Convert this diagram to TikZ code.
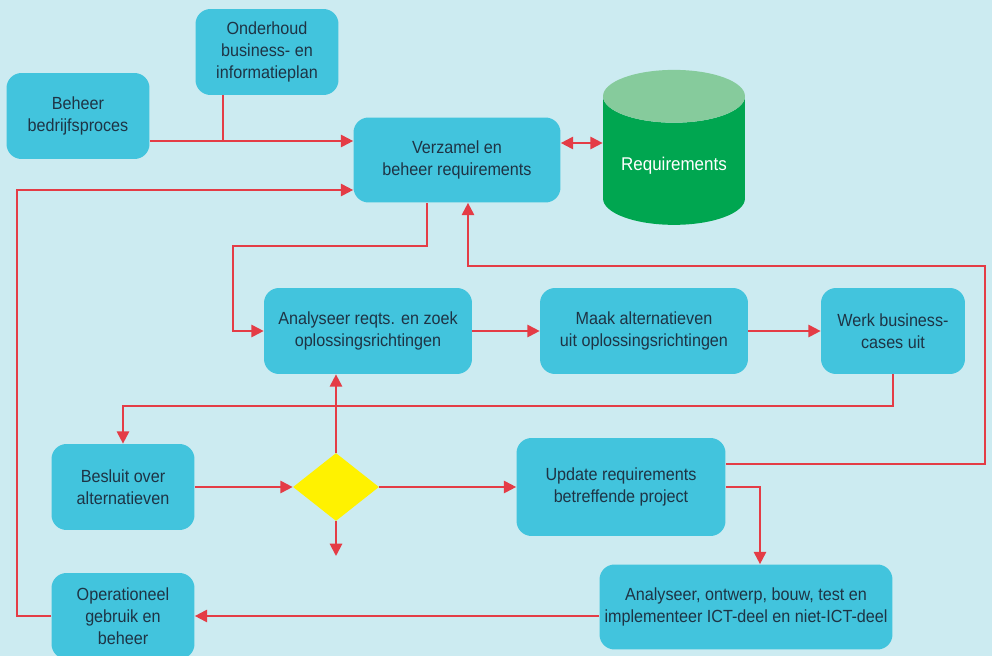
\documentclass[tikz,border=0pt]{standalone}
\usepackage{fontspec}
\setmainfont{Liberation Sans}[FakeStretch=0.92]
\usepackage{tikz}
\usetikzlibrary{arrows.meta,shapes.geometric,positioning,calc}
\definecolor{achtergrond}{HTML}{CCEBF1}
\definecolor{boxblauw}{HTML}{42C4DD}
\definecolor{tekstdonker}{HTML}{1E3445}
\definecolor{lijnrood}{HTML}{E43C46}
\definecolor{dbgroen}{HTML}{00A650}
\definecolor{dbtop}{HTML}{86CB9C}
\definecolor{keuzegeel}{HTML}{FFF200}
\begin{document}
\begin{tikzpicture}[x=0.02cm,y=-0.02cm,
  box/.style={rounded corners=0.3cm, fill=boxblauw, text=tekstdonker, align=center, minimum width=2.86cm, minimum height=1.72cm, inner sep=2pt, font=\fontsize{10}{12.5}\selectfont},
  store/.style={cylinder, shape border rotate=90, aspect=0.45, minimum width=2.84cm, minimum height=3.1cm, cylinder uses custom fill, cylinder body fill=dbgroen, cylinder end fill=dbtop, text=white, font=\fontsize{10.5}{12.5}\selectfont},
  keuze/.style={diamond, fill=keuzegeel, aspect=1.26, minimum width=1.72cm, minimum height=1.36cm, inner sep=0pt},
  lijn/.style={draw=lijnrood, line width=1.1pt},
  link/.style={lijn, -{Triangle[length=7pt,width=7pt]}},
  dlink/.style={lijn, {Triangle[length=7pt,width=7pt]}-{Triangle[length=7pt,width=7pt]}}]
\fill[achtergrond] (0,0) rectangle (992,656);
\useasboundingbox (0,0) rectangle (992,656);
\node[box] (beheer) at (78,116) {Beheer\\bedrijfsproces};
\node[box] (onderhoud) at (267,52) {Onderhoud\\business- en\\informatieplan};
\node[box, minimum width=4.14cm, minimum height=1.7cm] (verzamel) at (457,160) {Verzamel en\\beheer requirements};
\node[store] (reqs) at (674,166) {Requirements};
\node[box, minimum width=4.16cm] (analyse) at (368,331) {Analyseer reqts. en zoek\\oplossingsrichtingen};
\node[box, minimum width=4.16cm] (maak) at (644,331) {Maak alternatieven\\uit oplossingsrichtingen};
\node[box, minimum width=2.88cm] (werk) at (893,331) {Werk business-\\cases uit};
\node[box] (besluit) at (123,487) {Besluit over\\alternatieven};
\node[keuze] (keuze) at (336,487) {};
\node[box, minimum width=4.18cm, minimum height=1.96cm] (update) at (621,487) {Update requirements\\betreffende project};
\node[box, minimum width=5.86cm, minimum height=1.7cm] (bouw) at (746,607) {Analyseer, ontwerp, bouw, test en\\implementeer ICT-deel en niet-ICT-deel};
\node[box] (operationeel) at (123,616) {Operationeel\\gebruik en\\beheer};
\coordinate (splits) at (223,141);
\coordinate (uit) at (336,556);
\draw[lijn] (onderhoud.south -| splits) -- (splits);
\draw[link] (beheer.east |- splits) -- (verzamel.west |- splits);
\draw[dlink] (verzamel.east |- 0,143) -- (reqs.west |- 0,143);
\draw[link] (operationeel.west) -| (17,190) -- (verzamel.west |- 0,190);
\draw[link] (verzamel.south -| 427,0) |- (233,246) |- (analyse.west);
\draw[link] (analyse) -- (maak);
\draw[link] (maak) -- (werk);
\draw[link] (werk.south) -- ++(0,32) -| (besluit.north);
\draw[link] (besluit) -- (keuze);
\draw[link] (keuze.north) -- (analyse.south -| keuze.north);
\draw[link] (keuze.south) -- (uit);
\draw[link] (keuze) -- (update);
\draw[link] (update.east |- 0,464) -| (985,266) -| (verzamel.south -| 468,0);
\draw[link] (update.east) -| (bouw.north -| 760,0);
\draw[link] (bouw.west |- 0,616) -- (operationeel.east);
\end{tikzpicture}
\end{document}
